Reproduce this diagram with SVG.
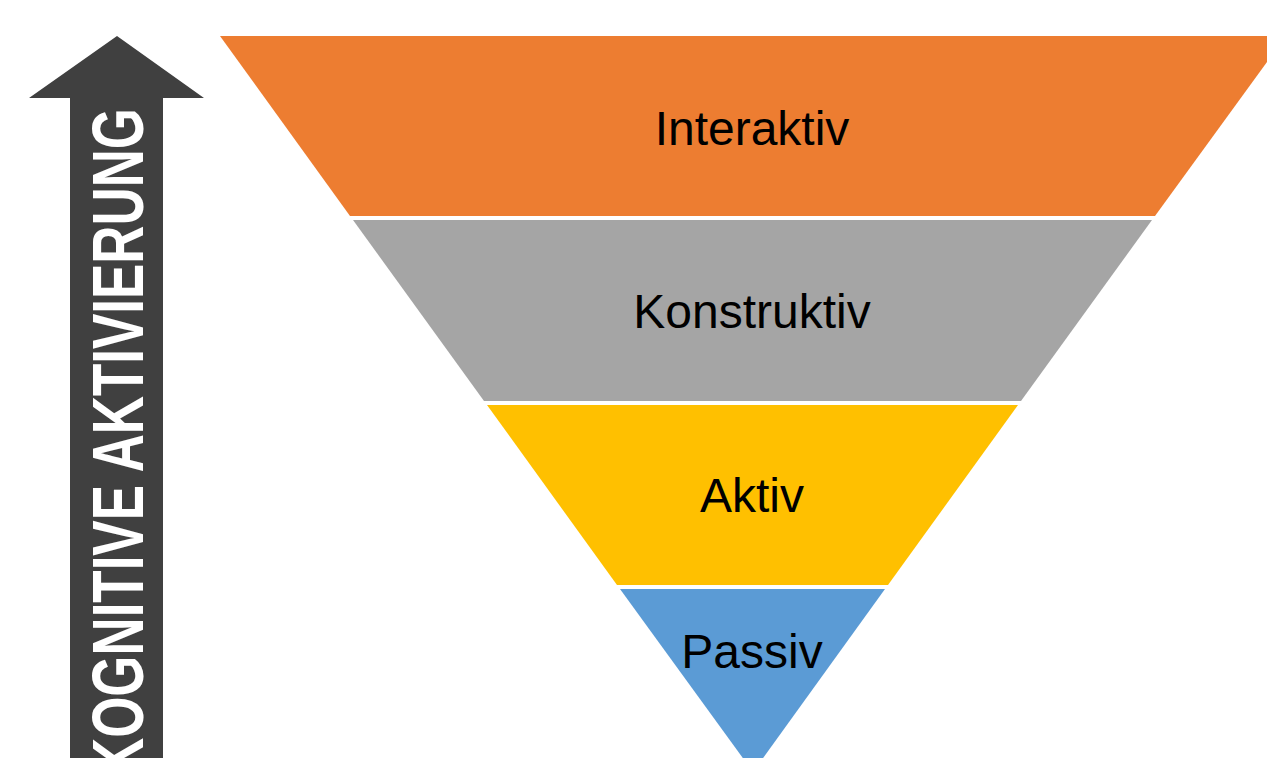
<svg xmlns="http://www.w3.org/2000/svg" width="1267" height="758" viewBox="0 0 1267 758">
  <style>
    .band { stroke: none; }
    .label { font-family: "Liberation Sans", Arial, sans-serif; font-size: 48px; fill: #000000; text-anchor: middle; }
    .axis-label { font-family: "Liberation Sans", Arial, sans-serif; font-weight: bold; font-size: 72px; fill: #ffffff; }
  </style>
  <rect width="1267" height="758" fill="#ffffff"/>

  <!-- Upward arrow with rotated caption -->
  <g id="arrow">
    <polygon points="117,36 204,98 163,98 163,758 70,758 70,98 29,98" fill="#404040"/>
    <text class="axis-label" transform="translate(143,776) rotate(-90)" textLength="668" lengthAdjust="spacingAndGlyphs">KOGNITIVE AKTIVIERUNG</text>
  </g>

  <!-- Inverted pyramid: four bands separated by thin white gaps -->
  <g id="interaktiv">
    <polygon class="band" points="220,36 1286,36 1155,216 350,216" fill="#ED7D31"/>
    <text class="label" x="752" y="145">Interaktiv</text>
  </g>
  <g id="konstruktiv">
    <polygon class="band" points="353,220 1152,220 1021,401 484,401" fill="#A5A5A5"/>
    <text class="label" x="752" y="328">Konstruktiv</text>
  </g>
  <g id="aktiv">
    <polygon class="band" points="487,405 1018,405 888,585 617,585" fill="#FFC000"/>
    <text class="label" x="752" y="512">Aktiv</text>
  </g>
  <g id="passiv">
    <polygon class="band" points="620,589 885,589 753,772" fill="#5B9BD5"/>
    <text class="label" x="752" y="668">Passiv</text>
  </g>
</svg>
